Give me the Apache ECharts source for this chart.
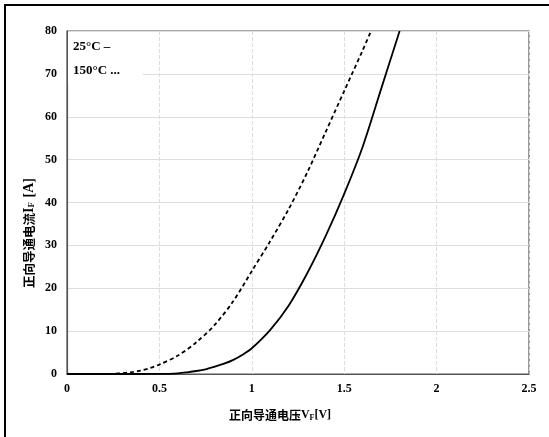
<!DOCTYPE html>
<html>
<head>
<meta charset="utf-8">
<script src="https://cdn.jsdelivr.net/npm/echarts@6/dist/echarts.min.js"></script>
<style>
html,body{margin:0;padding:0;background:#fff;}
#c{width:549px;height:437px;}
</style>
</head>
<body>
<div id="c"></div>
<script>
// Forward voltage V_F [V] and forward current I_F [A]
const vf25 = [0, 0.2, 0.4, 0.5, 0.55, 0.6, 0.65, 0.7, 0.75, 0.8, 0.85, 0.9, 0.95, 1.0, 1.1, 1.2, 1.3, 1.4, 1.5, 1.6, 1.7, 1.8];
const if25 = [0, 0, 0, 0.02, 0.05, 0.15, 0.4, 0.7, 1.1, 1.7, 2.4, 3.3, 4.5, 6.0, 10.3, 16.0, 23.5, 32.2, 42.0, 53.0, 66.5, 80.0];
const vf150 = [0, 0.2, 0.25, 0.3, 0.35, 0.4, 0.45, 0.5, 0.6, 0.7, 0.8, 0.9, 1.0, 1.1, 1.2, 1.3, 1.4, 1.5, 1.6, 1.645];
const if150 = [0, 0, 0.05, 0.2, 0.45, 0.8, 1.4, 2.2, 4.3, 7.4, 11.5, 17.0, 24.0, 31.0, 38.5, 47.0, 56.5, 66.0, 75.5, 80.0];
const xTicks = [0, 0.5, 1, 1.5, 2, 2.5];
const yTicks = [0, 10, 20, 30, 40, 50, 60, 70, 80];
const legendLabels = ['25°C –', '150°C ...'];

const serif = '"Liberation Serif", "Times New Roman", serif';
const cjk = '"Noto Sans CJK SC", "Liberation Serif", serif';

const chart = echarts.init(document.getElementById('c'), null, {renderer: 'canvas'});
chart.setOption({
  animation: false,
  backgroundColor: '#fff',
  grid: {left: 67, top: 31, width: 462, height: 343, show: true, borderColor: '#555', borderWidth: 1.2, backgroundColor: 'transparent'},
  xAxis: {
    type: 'value', min: 0, max: 2.5, interval: 0.5,
    axisLine: {show: true, lineStyle: {color: '#555', width: 1.2}},
    axisTick: {show: false},
    splitLine: {show: true, lineStyle: {color: '#ddd', type: 'dashed', width: 1}},
    axisLabel: {color: '#000', fontFamily: serif, fontWeight: 'bold', fontSize: 12, margin: 9,
      formatter: v => xTicks.includes(v) ? String(v) : ''}
  },
  yAxis: {
    type: 'value', min: 0, max: 80, interval: 10,
    axisLine: {show: true, lineStyle: {color: '#555', width: 1.2}},
    axisTick: {show: false},
    splitLine: {show: true, lineStyle: {color: '#ddd', type: 'solid', width: 1}},
    axisLabel: {color: '#000', fontFamily: serif, fontWeight: 'bold', fontSize: 12, margin: 10,
      formatter: v => yTicks.includes(v) ? String(v) : ''}
  },
  graphic: [
    {type: 'line', shape: {x1: 5, y1: 4, x2: 5, y2: 440}, style: {stroke: '#000', lineWidth: 2}},
    {type: 'line', shape: {x1: 4, y1: 5, x2: 560, y2: 5}, style: {stroke: '#000', lineWidth: 2}},
    {type: 'rect', z: 50, shape: {x: 68, y: 32, width: 75, height: 52}, style: {fill: '#fff'}},
    {type: 'text', z: 51, left: 73, top: 40, style: {text: legendLabels[0], font: 'bold 13px ' + serif, fill: '#000'}},
    {type: 'text', z: 51, left: 73, top: 64, style: {text: legendLabels[1], font: 'bold 13px ' + serif, fill: '#000'}},
    {type: 'text', x: 280, y: 415, style: {
      text: '{c|正向导通电压}{t|V}{s|F}{t|[V]}', align: 'center', verticalAlign: 'middle',
      rich: {
        c: {font: 'bold 12px ' + cjk, fill: '#000'},
        t: {font: 'bold 12px ' + serif, fill: '#000'},
        s: {font: 'bold 8px ' + serif, fill: '#000', padding: [6, 0, 0, 0]}
      }
    }},
    {type: 'text', x: 29, y: 233, rotation: Math.PI / 2, style: {
      text: '{c|正向导通电流}{t|I}{s|F}{t| [A]}', align: 'center', verticalAlign: 'middle',
      rich: {
        c: {font: 'bold 12.5px ' + cjk, fill: '#000'},
        t: {font: 'bold 14px ' + serif, fill: '#000'},
        s: {font: 'bold 9px ' + serif, fill: '#000', padding: [6, 1, 0, 0]}
      }
    }}
  ],
  series: [
    {name: '25°C', type: 'line', smooth: 0.3, showSymbol: false,
     data: vf25.map((v, i) => [v, if25[i]]),
     lineStyle: {color: '#000', width: 1.8, type: 'solid'}},
    {name: '150°C', type: 'line', smooth: 0.3, showSymbol: false,
     data: vf150.map((v, i) => [v, if150[i]]),
     lineStyle: {color: '#000', width: 1.8, type: [4, 3]}}
  ]
});
</script>
</body>
</html>
